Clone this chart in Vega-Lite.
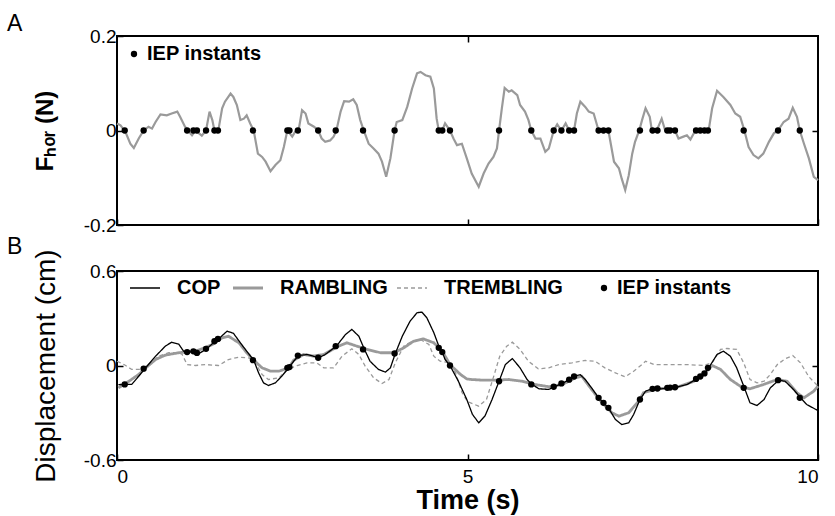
{
  "$schema": "https://vega.github.io/schema/vega-lite/v6.json",
  "background": "white",
  "padding": {"left": 6, "top": 12, "right": 5, "bottom": 3},
  "bounds": "flush",
  "config": {
    "font": "Liberation Sans",
    "view": {"stroke": "black", "strokeWidth": 2},
    "axis": {"grid": false, "domain": false, "labelFont": "Liberation Sans", "labelFontSize": 19, "labelColor": "black", "tickColor": "black", "tickWidth": 1.5, "titleFont": "Liberation Sans", "titleColor": "black", "labelExpr": "toString(datum.value)"},
    "legend": {"labelFont": "Liberation Sans", "labelFontSize": 20, "labelFontWeight": "bold", "labelColor": "black", "padding": 0},
    "title": {"font": "Liberation Sans", "fontSize": 23, "fontWeight": "normal", "color": "black"}
  },
  "datasets": {
    "forceA": [
      {"t":0,"v":0.015},{"t":0.05,"v":0.011},{"t":0.12,"v":-0.003},{"t":0.19,"v":-0.028},{"t":0.24,"v":-0.037},{"t":0.31,"v":-0.017},{"t":0.38,"v":0},{"t":0.45,"v":0.008},{"t":0.5,"v":0.004},{"t":0.55,"v":0.018},{"t":0.62,"v":0.034},{"t":0.71,"v":0.032},{"t":0.78,"v":0.036},{"t":0.86,"v":0.04},{"t":0.9,"v":0.029},{"t":0.97,"v":0.008},{"t":1.01,"v":0},{"t":1.07,"v":-0.01},{"t":1.12,"v":0},{"t":1.17,"v":-0.006},{"t":1.21,"v":-0.011},{"t":1.27,"v":0},{"t":1.32,"v":0.04},{"t":1.36,"v":0.022},{"t":1.39,"v":0},{"t":1.45,"v":0.004},{"t":1.5,"v":0.047},{"t":1.54,"v":0.061},{"t":1.62,"v":0.078},{"t":1.66,"v":0.071},{"t":1.71,"v":0.054},{"t":1.76,"v":0.022},{"t":1.81,"v":0.025},{"t":1.85,"v":0.032},{"t":1.9,"v":0.015},{"t":1.95,"v":0},{"t":2.01,"v":-0.049},{"t":2.07,"v":-0.056},{"t":2.12,"v":-0.066},{"t":2.19,"v":-0.086},{"t":2.26,"v":-0.073},{"t":2.33,"v":-0.063},{"t":2.38,"v":-0.035},{"t":2.43,"v":0},{"t":2.5,"v":-0.013},{"t":2.54,"v":-0.003},{"t":2.59,"v":0},{"t":2.64,"v":0.043},{"t":2.69,"v":0.036},{"t":2.73,"v":0.015},{"t":2.81,"v":0.008},{"t":2.87,"v":0},{"t":2.92,"v":-0.017},{"t":2.97,"v":-0.024},{"t":3.04,"v":-0.021},{"t":3.09,"v":-0.013},{"t":3.13,"v":0},{"t":3.19,"v":0.04},{"t":3.24,"v":0.062},{"t":3.31,"v":0.061},{"t":3.37,"v":0.066},{"t":3.42,"v":0.054},{"t":3.47,"v":0.022},{"t":3.52,"v":0},{"t":3.59,"v":-0.028},{"t":3.66,"v":-0.038},{"t":3.73,"v":-0.049},{"t":3.78,"v":-0.066},{"t":3.84,"v":-0.098},{"t":3.9,"v":-0.059},{"t":3.96,"v":0},{"t":3.99,"v":0.018},{"t":4.07,"v":0.022},{"t":4.14,"v":0.05},{"t":4.21,"v":0.089},{"t":4.28,"v":0.121},{"t":4.33,"v":0.124},{"t":4.4,"v":0.117},{"t":4.47,"v":0.114},{"t":4.52,"v":0.089},{"t":4.56,"v":0.025},{"t":4.59,"v":0},{"t":4.64,"v":0},{"t":4.68,"v":0.015},{"t":4.75,"v":0},{"t":4.8,"v":-0.017},{"t":4.85,"v":-0.031},{"t":4.92,"v":-0.028},{"t":4.99,"v":-0.059},{"t":5.06,"v":-0.091},{"t":5.16,"v":-0.119},{"t":5.23,"v":-0.091},{"t":5.3,"v":-0.07},{"t":5.37,"v":-0.056},{"t":5.42,"v":-0.038},{"t":5.45,"v":0},{"t":5.49,"v":0.047},{"t":5.53,"v":0.09},{"t":5.59,"v":0.082},{"t":5.63,"v":0.085},{"t":5.71,"v":0.075},{"t":5.75,"v":0.054},{"t":5.82,"v":0.04},{"t":5.87,"v":0.022},{"t":5.91,"v":0},{"t":5.97,"v":-0.017},{"t":6.04,"v":-0.017},{"t":6.11,"v":-0.045},{"t":6.16,"v":-0.038},{"t":6.23,"v":0},{"t":6.28,"v":0.013},{"t":6.34,"v":0},{"t":6.4,"v":0.015},{"t":6.45,"v":0},{"t":6.52,"v":0},{"t":6.56,"v":0.036},{"t":6.61,"v":0.061},{"t":6.68,"v":0.05},{"t":6.73,"v":0.04},{"t":6.8,"v":0.036},{"t":6.87,"v":0},{"t":6.94,"v":0},{"t":7.01,"v":0},{"t":7.09,"v":-0.066},{"t":7.16,"v":-0.08},{"t":7.2,"v":-0.102},{"t":7.25,"v":-0.126},{"t":7.3,"v":-0.095},{"t":7.35,"v":-0.049},{"t":7.39,"v":-0.024},{"t":7.45,"v":0},{"t":7.49,"v":0.022},{"t":7.54,"v":0.047},{"t":7.6,"v":0.029},{"t":7.63,"v":0},{"t":7.7,"v":0},{"t":7.77,"v":0.025},{"t":7.82,"v":0},{"t":7.89,"v":0},{"t":7.96,"v":0},{"t":8.01,"v":-0.017},{"t":8.08,"v":-0.013},{"t":8.13,"v":-0.01},{"t":8.18,"v":-0.019},{"t":8.25,"v":0},{"t":8.32,"v":0},{"t":8.37,"v":0},{"t":8.44,"v":0},{"t":8.49,"v":0.047},{"t":8.56,"v":0.084},{"t":8.65,"v":0.071},{"t":8.75,"v":0.054},{"t":8.82,"v":0.036},{"t":8.89,"v":0.029},{"t":8.95,"v":0},{"t":9.01,"v":-0.035},{"t":9.08,"v":-0.052},{"t":9.15,"v":-0.059},{"t":9.22,"v":-0.049},{"t":9.3,"v":-0.024},{"t":9.37,"v":-0.006},{"t":9.43,"v":0},{"t":9.51,"v":0.018},{"t":9.58,"v":0.025},{"t":9.64,"v":0.048},{"t":9.7,"v":0.029},{"t":9.74,"v":0},{"t":9.8,"v":-0.028},{"t":9.87,"v":-0.059},{"t":9.94,"v":-0.098},{"t":10,"v":-0.105}
    ],
    "iepA": [
      {"t":0.11,"v":0,"lab":"IEP instants"},{"t":0.38,"v":0,"lab":"IEP instants"},{"t":1.0,"v":0,"lab":"IEP instants"},{"t":1.09,"v":0,"lab":"IEP instants"},{"t":1.14,"v":0,"lab":"IEP instants"},{"t":1.27,"v":0,"lab":"IEP instants"},{"t":1.39,"v":0,"lab":"IEP instants"},{"t":1.44,"v":0,"lab":"IEP instants"},{"t":1.94,"v":0,"lab":"IEP instants"},{"t":2.43,"v":0,"lab":"IEP instants"},{"t":2.46,"v":0,"lab":"IEP instants"},{"t":2.58,"v":0,"lab":"IEP instants"},{"t":2.87,"v":0,"lab":"IEP instants"},{"t":3.12,"v":0,"lab":"IEP instants"},{"t":3.51,"v":0,"lab":"IEP instants"},{"t":3.96,"v":0,"lab":"IEP instants"},{"t":4.59,"v":0,"lab":"IEP instants"},{"t":4.64,"v":0,"lab":"IEP instants"},{"t":4.75,"v":0,"lab":"IEP instants"},{"t":5.45,"v":0,"lab":"IEP instants"},{"t":5.91,"v":0,"lab":"IEP instants"},{"t":6.23,"v":0,"lab":"IEP instants"},{"t":6.34,"v":0,"lab":"IEP instants"},{"t":6.45,"v":0,"lab":"IEP instants"},{"t":6.52,"v":0,"lab":"IEP instants"},{"t":6.87,"v":0,"lab":"IEP instants"},{"t":6.94,"v":0,"lab":"IEP instants"},{"t":7.01,"v":0,"lab":"IEP instants"},{"t":7.46,"v":0,"lab":"IEP instants"},{"t":7.64,"v":0,"lab":"IEP instants"},{"t":7.71,"v":0,"lab":"IEP instants"},{"t":7.85,"v":0,"lab":"IEP instants"},{"t":7.89,"v":0,"lab":"IEP instants"},{"t":7.96,"v":0,"lab":"IEP instants"},{"t":8.26,"v":0,"lab":"IEP instants"},{"t":8.32,"v":0,"lab":"IEP instants"},{"t":8.38,"v":0,"lab":"IEP instants"},{"t":8.43,"v":0,"lab":"IEP instants"},{"t":8.94,"v":0,"lab":"IEP instants"},{"t":9.43,"v":0,"lab":"IEP instants"},{"t":9.74,"v":0,"lab":"IEP instants"}
    ],
    "dispB": [
      {"s":"TREMBLING","t":0,"v":0.027},{"s":"TREMBLING","t":0.1,"v":0.006},{"s":"TREMBLING","t":0.21,"v":-0.025},{"s":"TREMBLING","t":0.33,"v":-0.025},{"s":"TREMBLING","t":0.45,"v":0.006},{"s":"TREMBLING","t":0.59,"v":0.059},{"s":"TREMBLING","t":0.74,"v":0.081},{"s":"TREMBLING","t":0.88,"v":0.081},{"s":"TREMBLING","t":0.93,"v":0.07},{"s":"TREMBLING","t":1.0,"v":0.006},{"s":"TREMBLING","t":1.12,"v":0},{"s":"TREMBLING","t":1.26,"v":0.006},{"s":"TREMBLING","t":1.45,"v":0},{"s":"TREMBLING","t":1.59,"v":0.038},{"s":"TREMBLING","t":1.74,"v":0.053},{"s":"TREMBLING","t":1.88,"v":0.048},{"s":"TREMBLING","t":1.97,"v":0.017},{"s":"TREMBLING","t":2.07,"v":-0.057},{"s":"TREMBLING","t":2.16,"v":-0.089},{"s":"TREMBLING","t":2.31,"v":-0.078},{"s":"TREMBLING","t":2.43,"v":-0.025},{"s":"TREMBLING","t":2.57,"v":0},{"s":"TREMBLING","t":2.71,"v":0.017},{"s":"TREMBLING","t":2.85,"v":0.017},{"s":"TREMBLING","t":2.95,"v":-0.015},{"s":"TREMBLING","t":3.09,"v":-0.015},{"s":"TREMBLING","t":3.21,"v":0.059},{"s":"TREMBLING","t":3.35,"v":0.106},{"s":"TREMBLING","t":3.45,"v":0.07},{"s":"TREMBLING","t":3.54,"v":-0.004},{"s":"TREMBLING","t":3.66,"v":-0.078},{"s":"TREMBLING","t":3.78,"v":-0.114},{"s":"TREMBLING","t":3.88,"v":-0.089},{"s":"TREMBLING","t":3.97,"v":0.017},{"s":"TREMBLING","t":4.09,"v":0.123},{"s":"TREMBLING","t":4.21,"v":0.154},{"s":"TREMBLING","t":4.33,"v":0.165},{"s":"TREMBLING","t":4.45,"v":0.133},{"s":"TREMBLING","t":4.52,"v":0.059},{"s":"TREMBLING","t":4.61,"v":0.027},{"s":"TREMBLING","t":4.71,"v":0.02},{"s":"TREMBLING","t":4.83,"v":-0.047},{"s":"TREMBLING","t":4.92,"v":-0.17},{"s":"TREMBLING","t":5.0,"v":-0.23},{"s":"TREMBLING","t":5.16,"v":-0.258},{"s":"TREMBLING","t":5.27,"v":-0.216},{"s":"TREMBLING","t":5.36,"v":-0.089},{"s":"TREMBLING","t":5.46,"v":0.059},{"s":"TREMBLING","t":5.56,"v":0.123},{"s":"TREMBLING","t":5.64,"v":0.148},{"s":"TREMBLING","t":5.75,"v":0.102},{"s":"TREMBLING","t":5.87,"v":0.027},{"s":"TREMBLING","t":6.01,"v":-0.021},{"s":"TREMBLING","t":6.16,"v":-0.015},{"s":"TREMBLING","t":6.3,"v":0.006},{"s":"TREMBLING","t":6.49,"v":0.017},{"s":"TREMBLING","t":6.68,"v":0.032},{"s":"TREMBLING","t":6.82,"v":0.027},{"s":"TREMBLING","t":6.96,"v":-0.015},{"s":"TREMBLING","t":7.11,"v":-0.047},{"s":"TREMBLING","t":7.25,"v":-0.072},{"s":"TREMBLING","t":7.37,"v":-0.036},{"s":"TREMBLING","t":7.49,"v":0.006},{"s":"TREMBLING","t":7.54,"v":0.027},{"s":"TREMBLING","t":7.66,"v":0.006},{"s":"TREMBLING","t":7.89,"v":0.006},{"s":"TREMBLING","t":8.13,"v":0.006},{"s":"TREMBLING","t":8.37,"v":0},{"s":"TREMBLING","t":8.49,"v":0.017},{"s":"TREMBLING","t":8.61,"v":0.102},{"s":"TREMBLING","t":8.7,"v":0.108},{"s":"TREMBLING","t":8.84,"v":0.102},{"s":"TREMBLING","t":8.94,"v":0.017},{"s":"TREMBLING","t":9.03,"v":-0.089},{"s":"TREMBLING","t":9.13,"v":-0.11},{"s":"TREMBLING","t":9.23,"v":-0.1},{"s":"TREMBLING","t":9.32,"v":-0.057},{"s":"TREMBLING","t":9.42,"v":0.006},{"s":"TREMBLING","t":9.53,"v":0.042},{"s":"TREMBLING","t":9.64,"v":0.063},{"s":"TREMBLING","t":9.75,"v":0.017},{"s":"TREMBLING","t":9.87,"v":-0.072},{"s":"TREMBLING","t":10,"v":-0.131},
      {"s":"RAMBLING","t":0.02,"v":-0.142},{"s":"RAMBLING","t":0.17,"v":-0.1},{"s":"RAMBLING","t":0.31,"v":-0.057},{"s":"RAMBLING","t":0.4,"v":-0.019},{"s":"RAMBLING","t":0.55,"v":0.038},{"s":"RAMBLING","t":0.69,"v":0.066},{"s":"RAMBLING","t":0.88,"v":0.081},{"s":"RAMBLING","t":1.02,"v":0.087},{"s":"RAMBLING","t":1.16,"v":0.097},{"s":"RAMBLING","t":1.36,"v":0.133},{"s":"RAMBLING","t":1.5,"v":0.176},{"s":"RAMBLING","t":1.59,"v":0.186},{"s":"RAMBLING","t":1.74,"v":0.144},{"s":"RAMBLING","t":1.85,"v":0.081},{"s":"RAMBLING","t":1.95,"v":0.034},{"s":"RAMBLING","t":2.07,"v":-0.015},{"s":"RAMBLING","t":2.19,"v":-0.036},{"s":"RAMBLING","t":2.31,"v":-0.036},{"s":"RAMBLING","t":2.45,"v":-0.015},{"s":"RAMBLING","t":2.52,"v":0.034},{"s":"RAMBLING","t":2.66,"v":0.07},{"s":"RAMBLING","t":2.8,"v":0.06},{"s":"RAMBLING","t":2.95,"v":0.07},{"s":"RAMBLING","t":3.14,"v":0.119},{"s":"RAMBLING","t":3.28,"v":0.144},{"s":"RAMBLING","t":3.42,"v":0.123},{"s":"RAMBLING","t":3.57,"v":0.102},{"s":"RAMBLING","t":3.76,"v":0.081},{"s":"RAMBLING","t":3.95,"v":0.081},{"s":"RAMBLING","t":4.09,"v":0.112},{"s":"RAMBLING","t":4.23,"v":0.154},{"s":"RAMBLING","t":4.37,"v":0.169},{"s":"RAMBLING","t":4.52,"v":0.144},{"s":"RAMBLING","t":4.64,"v":0.091},{"s":"RAMBLING","t":4.75,"v":0.006},{"s":"RAMBLING","t":4.9,"v":-0.057},{"s":"RAMBLING","t":4.99,"v":-0.085},{"s":"RAMBLING","t":5.06,"v":-0.089},{"s":"RAMBLING","t":5.21,"v":-0.093},{"s":"RAMBLING","t":5.4,"v":-0.093},{"s":"RAMBLING","t":5.59,"v":-0.089},{"s":"RAMBLING","t":5.78,"v":-0.1},{"s":"RAMBLING","t":5.97,"v":-0.121},{"s":"RAMBLING","t":6.16,"v":-0.135},{"s":"RAMBLING","t":6.35,"v":-0.121},{"s":"RAMBLING","t":6.54,"v":-0.078},{"s":"RAMBLING","t":6.63,"v":-0.068},{"s":"RAMBLING","t":6.77,"v":-0.152},{"s":"RAMBLING","t":6.92,"v":-0.237},{"s":"RAMBLING","t":7.06,"v":-0.3},{"s":"RAMBLING","t":7.16,"v":-0.322},{"s":"RAMBLING","t":7.3,"v":-0.3},{"s":"RAMBLING","t":7.44,"v":-0.227},{"s":"RAMBLING","t":7.51,"v":-0.173},{"s":"RAMBLING","t":7.7,"v":-0.148},{"s":"RAMBLING","t":7.99,"v":-0.138},{"s":"RAMBLING","t":8.23,"v":-0.1},{"s":"RAMBLING","t":8.37,"v":-0.057},{"s":"RAMBLING","t":8.49,"v":0},{"s":"RAMBLING","t":8.61,"v":-0.025},{"s":"RAMBLING","t":8.75,"v":-0.089},{"s":"RAMBLING","t":8.89,"v":-0.131},{"s":"RAMBLING","t":9.03,"v":-0.148},{"s":"RAMBLING","t":9.22,"v":-0.121},{"s":"RAMBLING","t":9.42,"v":-0.089},{"s":"RAMBLING","t":9.56,"v":-0.1},{"s":"RAMBLING","t":9.7,"v":-0.173},{"s":"RAMBLING","t":9.8,"v":-0.205},{"s":"RAMBLING","t":9.94,"v":-0.163},{"s":"RAMBLING","t":10,"v":-0.131},
      {"s":"COP","t":0.02,"v":-0.121},{"s":"COP","t":0.12,"v":-0.12},{"s":"COP","t":0.21,"v":-0.12},{"s":"COP","t":0.31,"v":-0.068},{"s":"COP","t":0.4,"v":-0.019},{"s":"COP","t":0.55,"v":0.059},{"s":"COP","t":0.69,"v":0.123},{"s":"COP","t":0.78,"v":0.148},{"s":"COP","t":0.88,"v":0.136},{"s":"COP","t":0.95,"v":0.091},{"s":"COP","t":1.02,"v":0.085},{"s":"COP","t":1.12,"v":0.09},{"s":"COP","t":1.17,"v":0.076},{"s":"COP","t":1.28,"v":0.106},{"s":"COP","t":1.4,"v":0.154},{"s":"COP","t":1.45,"v":0.169},{"s":"COP","t":1.57,"v":0.218},{"s":"COP","t":1.66,"v":0.205},{"s":"COP","t":1.76,"v":0.144},{"s":"COP","t":1.85,"v":0.091},{"s":"COP","t":1.95,"v":0.034},{"s":"COP","t":2.02,"v":-0.047},{"s":"COP","t":2.09,"v":-0.11},{"s":"COP","t":2.16,"v":-0.127},{"s":"COP","t":2.26,"v":-0.11},{"s":"COP","t":2.35,"v":-0.068},{"s":"COP","t":2.45,"v":-0.015},{"s":"COP","t":2.52,"v":0.027},{"s":"COP","t":2.59,"v":0.063},{"s":"COP","t":2.71,"v":0.07},{"s":"COP","t":2.8,"v":0.059},{"s":"COP","t":2.88,"v":0.049},{"s":"COP","t":2.97,"v":0.07},{"s":"COP","t":3.13,"v":0.123},{"s":"COP","t":3.26,"v":0.197},{"s":"COP","t":3.35,"v":0.229},{"s":"COP","t":3.45,"v":0.186},{"s":"COP","t":3.53,"v":0.102},{"s":"COP","t":3.61,"v":0.027},{"s":"COP","t":3.73,"v":-0.025},{"s":"COP","t":3.83,"v":-0.042},{"s":"COP","t":3.9,"v":-0.015},{"s":"COP","t":3.97,"v":0.076},{"s":"COP","t":4.07,"v":0.186},{"s":"COP","t":4.18,"v":0.281},{"s":"COP","t":4.28,"v":0.335},{"s":"COP","t":4.35,"v":0.339},{"s":"COP","t":4.42,"v":0.303},{"s":"COP","t":4.52,"v":0.208},{"s":"COP","t":4.6,"v":0.112},{"s":"COP","t":4.64,"v":0.085},{"s":"COP","t":4.68,"v":0.038},{"s":"COP","t":4.75,"v":0},{"s":"COP","t":4.87,"v":-0.1},{"s":"COP","t":4.99,"v":-0.216},{"s":"COP","t":5.07,"v":-0.31},{"s":"COP","t":5.16,"v":-0.364},{"s":"COP","t":5.25,"v":-0.32},{"s":"COP","t":5.35,"v":-0.216},{"s":"COP","t":5.45,"v":-0.1},{"s":"COP","t":5.54,"v":0.006},{"s":"COP","t":5.64,"v":0.044},{"s":"COP","t":5.75,"v":-0.015},{"s":"COP","t":5.85,"v":-0.089},{"s":"COP","t":5.92,"v":-0.12},{"s":"COP","t":6.02,"v":-0.148},{"s":"COP","t":6.16,"v":-0.152},{"s":"COP","t":6.24,"v":-0.135},{"s":"COP","t":6.35,"v":-0.114},{"s":"COP","t":6.47,"v":-0.085},{"s":"COP","t":6.56,"v":-0.063},{"s":"COP","t":6.61,"v":-0.059},{"s":"COP","t":6.68,"v":-0.089},{"s":"COP","t":6.77,"v":-0.142},{"s":"COP","t":6.87,"v":-0.205},{"s":"COP","t":6.94,"v":-0.237},{"s":"COP","t":7.01,"v":-0.269},{"s":"COP","t":7.11,"v":-0.343},{"s":"COP","t":7.2,"v":-0.375},{"s":"COP","t":7.3,"v":-0.364},{"s":"COP","t":7.37,"v":-0.311},{"s":"COP","t":7.46,"v":-0.216},{"s":"COP","t":7.54,"v":-0.163},{"s":"COP","t":7.63,"v":-0.148},{"s":"COP","t":7.7,"v":-0.146},{"s":"COP","t":7.77,"v":-0.148},{"s":"COP","t":7.87,"v":-0.142},{"s":"COP","t":7.94,"v":-0.138},{"s":"COP","t":8.01,"v":-0.135},{"s":"COP","t":8.13,"v":-0.121},{"s":"COP","t":8.27,"v":-0.085},{"s":"COP","t":8.36,"v":-0.057},{"s":"COP","t":8.44,"v":-0.015},{"s":"COP","t":8.56,"v":0.07},{"s":"COP","t":8.65,"v":0.091},{"s":"COP","t":8.75,"v":0.059},{"s":"COP","t":8.84,"v":-0.015},{"s":"COP","t":8.95,"v":-0.142},{"s":"COP","t":9.03,"v":-0.237},{"s":"COP","t":9.13,"v":-0.254},{"s":"COP","t":9.23,"v":-0.216},{"s":"COP","t":9.32,"v":-0.142},{"s":"COP","t":9.44,"v":-0.093},{"s":"COP","t":9.53,"v":-0.1},{"s":"COP","t":9.65,"v":-0.152},{"s":"COP","t":9.75,"v":-0.205},{"s":"COP","t":9.84,"v":-0.248},{"s":"COP","t":9.99,"v":-0.284}
    ],
    "iepB": [
      {"t":0.11,"v":-0.12,"lab":"IEP instants"},{"t":0.38,"v":-0.02,"lab":"IEP instants"},{"t":1.0,"v":0.085,"lab":"IEP instants"},{"t":1.09,"v":0.09,"lab":"IEP instants"},{"t":1.14,"v":0.08,"lab":"IEP instants"},{"t":1.27,"v":0.106,"lab":"IEP instants"},{"t":1.39,"v":0.154,"lab":"IEP instants"},{"t":1.44,"v":0.169,"lab":"IEP instants"},{"t":1.94,"v":0.034,"lab":"IEP instants"},{"t":2.43,"v":-0.015,"lab":"IEP instants"},{"t":2.46,"v":-0.01,"lab":"IEP instants"},{"t":2.58,"v":0.063,"lab":"IEP instants"},{"t":2.87,"v":0.049,"lab":"IEP instants"},{"t":3.12,"v":0.123,"lab":"IEP instants"},{"t":3.51,"v":0.102,"lab":"IEP instants"},{"t":3.96,"v":0.076,"lab":"IEP instants"},{"t":4.59,"v":0.112,"lab":"IEP instants"},{"t":4.64,"v":0.085,"lab":"IEP instants"},{"t":4.75,"v":0,"lab":"IEP instants"},{"t":5.45,"v":-0.1,"lab":"IEP instants"},{"t":5.91,"v":-0.12,"lab":"IEP instants"},{"t":6.23,"v":-0.135,"lab":"IEP instants"},{"t":6.34,"v":-0.114,"lab":"IEP instants"},{"t":6.45,"v":-0.09,"lab":"IEP instants"},{"t":6.52,"v":-0.07,"lab":"IEP instants"},{"t":6.87,"v":-0.205,"lab":"IEP instants"},{"t":6.94,"v":-0.237,"lab":"IEP instants"},{"t":7.01,"v":-0.269,"lab":"IEP instants"},{"t":7.46,"v":-0.216,"lab":"IEP instants"},{"t":7.64,"v":-0.148,"lab":"IEP instants"},{"t":7.71,"v":-0.146,"lab":"IEP instants"},{"t":7.85,"v":-0.142,"lab":"IEP instants"},{"t":7.89,"v":-0.14,"lab":"IEP instants"},{"t":7.96,"v":-0.138,"lab":"IEP instants"},{"t":8.26,"v":-0.085,"lab":"IEP instants"},{"t":8.32,"v":-0.07,"lab":"IEP instants"},{"t":8.38,"v":-0.05,"lab":"IEP instants"},{"t":8.43,"v":-0.015,"lab":"IEP instants"},{"t":8.94,"v":-0.142,"lab":"IEP instants"},{"t":9.43,"v":-0.093,"lab":"IEP instants"},{"t":9.74,"v":-0.205,"lab":"IEP instants"}
    ]
  },
  "spacing": 46,
  "resolve": {"scale": {"fill": "independent", "color": "independent", "strokeDash": "independent"}, "legend": {"fill": "independent", "color": "independent", "strokeDash": "independent"}},
  "vconcat": [
    {
      "width": 701, "height": 189,
      "title": {"text": "A", "anchor": "start", "frame": "group", "dx": -110, "offset": -9},
      "resolve": {"axis": {"x": "independent", "y": "independent"}},
      "layer": [
        {
          "data": {"name": "forceA"},
          "mark": {"type": "line", "color": "#9a9a9a", "strokeWidth": 2.2},
          "encoding": {
            "x": {"field": "t", "type": "quantitative", "scale": {"domain": [0, 10], "nice": false}, "axis": {"values": [0, 5, 10], "labels": false, "title": null, "tickSize": -6}},
            "y": {"field": "v", "type": "quantitative", "scale": {"domain": [-0.2, 0.2], "nice": false}, "axis": {"values": [-0.2, 0, 0.2], "tickSize": -6, "labelPadding": 7, "title": "Fₕₒᵣ (N)", "titleFontSize": 24, "titleFontWeight": "bold", "titlePadding": 26}}
          }
        },
        {
          "data": {"name": "iepA"},
          "mark": {"type": "point", "filled": true, "size": 40, "opacity": 1},
          "encoding": {
            "x": {"field": "t", "type": "quantitative", "axis": {"orient": "top", "values": [5], "labels": false, "title": null, "tickSize": -6}},
            "y": {"field": "v", "type": "quantitative", "axis": {"orient": "right", "values": [0], "labels": false, "title": null, "tickSize": -6}},
            "fill": {"field": "lab", "type": "nominal", "scale": {"range": ["black"]}, "legend": {"orient": "none", "legendX": 7, "legendY": 8, "title": null, "symbolSize": 40, "labelOffset": 3}}
          }
        }
      ]
    },
    {
      "width": 701, "height": 189,
      "title": {"text": "B", "anchor": "start", "frame": "group", "dx": -110, "offset": -10},
      "resolve": {"axis": {"y": "independent"}},
      "layer": [
        {
          "data": {"name": "dispB"},
          "mark": {"type": "line"},
          "encoding": {
            "x": {"field": "t", "type": "quantitative", "scale": {"domain": [0, 10], "nice": false}, "axis": {"values": [0, 5, 10], "tickSize": -6, "labelPadding": 13, "title": "Time (s)", "titleFontSize": 27, "titleFontWeight": "bold", "titlePadding": 1}},
            "y": {"field": "v", "type": "quantitative", "scale": {"domain": [-0.6, 0.6], "nice": false}, "axis": {"values": [-0.6, 0, 0.6], "tickSize": -6, "labelPadding": 7, "title": "Displacement (cm)", "titleFontSize": 28, "titleFontWeight": "normal", "titleX": -57, "titleY": 94.5, "titleAngle": 270, "titleAlign": "center", "titleBaseline": "bottom"}},
            "color": {"field": "s", "type": "nominal", "scale": {"domain": ["COP", "RAMBLING", "TREMBLING"], "range": ["black", "#9a9a9a", "#9a9a9a"]}, "legend": {"orient": "none", "legendX": 18, "legendY": 7, "direction": "horizontal", "title": null, "symbolType": "stroke", "symbolSize": 900, "labelOffset": 22, "columnPadding": 6, "encode": {"symbols": {"update": {"strokeWidth": {"signal": "datum.value === 'RAMBLING' ? 3 : 1.3"}}}}}},
            "strokeDash": {"field": "s", "type": "nominal", "scale": {"domain": ["COP", "RAMBLING", "TREMBLING"], "range": [[1, 0], [1, 0], [4, 3]]}, "legend": {"orient": "none", "legendX": 18, "legendY": 7, "direction": "horizontal", "title": null, "symbolType": "stroke", "symbolSize": 900, "labelOffset": 22, "columnPadding": 6, "encode": {"symbols": {"update": {"strokeWidth": {"signal": "datum.value === 'RAMBLING' ? 3 : 1.3"}}}}}},
            "strokeWidth": {"condition": {"test": "datum.s === 'RAMBLING'", "value": 2.8}, "value": 1.3},
            "order": {"field": "t", "type": "quantitative"}
          }
        },
        {
          "data": {"name": "iepB"},
          "mark": {"type": "point", "filled": true, "size": 40, "opacity": 1},
          "encoding": {
            "x": {"field": "t", "type": "quantitative"},
            "y": {"field": "v", "type": "quantitative", "axis": {"orient": "right", "values": [0], "labels": false, "title": null, "tickSize": -6}},
            "fill": {"field": "lab", "type": "nominal", "scale": {"range": ["black"]}, "legend": {"orient": "none", "legendX": 477, "legendY": 7, "title": null, "symbolSize": 40, "labelOffset": 3}}
          }
        }
      ]
    }
  ]
}
